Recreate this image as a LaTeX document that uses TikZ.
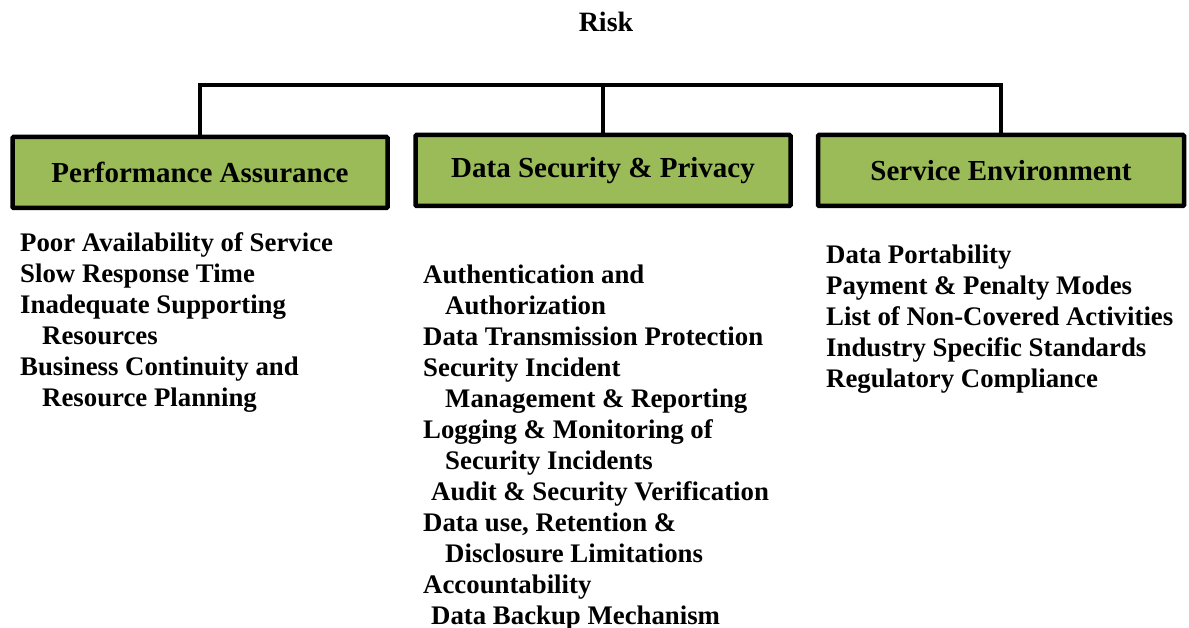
\documentclass[tikz,border=0pt]{standalone}
\usepackage{fontspec}
\setmainfont{Liberation Serif}
\definecolor{boxgreen}{RGB}{155, 187, 89}

\begin{document}
\begin{tikzpicture}[x=1pt, y=-1pt,
  cat/.style={draw=black, line width=4.5pt, fill=boxgreen, rounded corners=1pt,
    minimum height=71pt, font=\fontsize{29}{34}\selectfont\bfseries},
  items/.style={align=left, anchor=north west, inner sep=0pt,
    font=\fontsize{26.8}{31}\selectfont\bfseries},
  conn/.style={line width=4pt}]
  \useasboundingbox (0,0) rectangle (1189,628);

  \coordinate (bus) at (0, 85);

  \node[font=\fontsize{28}{32}\selectfont\bfseries] (risk) at (606, 22) {Risk};

  \node[cat, minimum width=375pt] (pa) at (200, 172.5) {Performance Assurance};
  \node[cat, minimum width=375pt] (ds) at (603, 170.5) {Data Security \& Privacy};
  \node[cat, minimum width=366pt] (se) at (1001, 170.5) {Service Environment};

  \draw[conn] (pa.north) |- (bus -| se.north) -- (se.north);
  \draw[conn] (ds.north) -- (ds.north |- bus);

  % item lists, top of first strut = baseline - 21.7
  \node[items] (paitems) at (20, 229.3) {\strut Poor Availability of Service\\
    Slow Response Time\\
    Inadequate Supporting\\
    \hspace*{22pt}Resources\\
    Business Continuity and\\
    \hspace*{22pt}Resource Planning};
  \node[items] (dsitems) at (423, 261.3) {\strut Authentication and\\
    \hspace*{22pt}Authorization\\
    Data Transmission Protection\\
    Security Incident\\
    \hspace*{22pt}Management \& Reporting\\
    Logging \& Monitoring of\\
    \hspace*{22pt}Security Incidents\\
    \hspace*{8pt}Audit \& Security Verification\\
    Data use, Retention \&\\
    \hspace*{22pt}Disclosure Limitations\\
    Accountability\\
    \hspace*{8pt}Data Backup Mechanism};
  \node[items] (seitems) at (826, 241.3) {\strut Data Portability\\
    Payment \& Penalty Modes\\
    List of Non-Covered Activities\\
    Industry Specific Standards\\
    Regulatory Compliance};
\end{tikzpicture}
\end{document}
